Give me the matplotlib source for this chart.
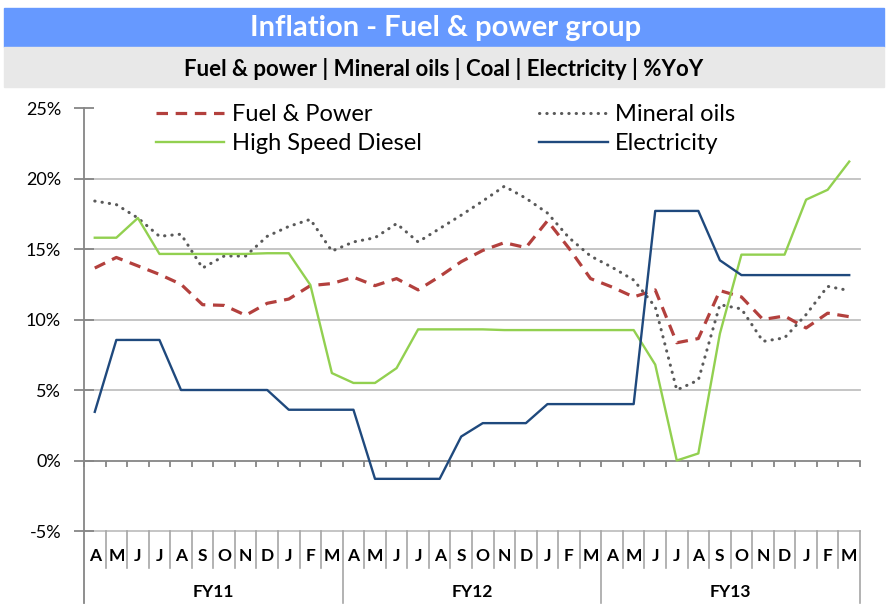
import matplotlib
matplotlib.use("Agg")
import matplotlib.pyplot as plt
from matplotlib.patches import Rectangle

# monthly %YoY, Apr FY11 .. Mar FY13
months = ["A", "M", "J", "J", "A", "S", "O", "N", "D", "J", "F", "M"]
fiscal_years = ["FY11", "FY12", "FY13"]

fuel_power = [13.65, 14.4, 13.8, 13.2, 12.5, 11.05, 11.0, 10.3, 11.15, 11.45, 12.4, 12.55,
              13.0, 12.4, 12.9, 12.1, 13.05, 14.1, 14.9, 15.45, 15.1, 17.0, 15.05, 12.9,
              12.3, 11.6, 12.1, 8.35, 8.65, 12.05, 11.6, 10.0, 10.25, 9.4, 10.45, 10.2]
mineral_oils = [18.4, 18.15, 17.2, 15.9, 16.05, 13.65, 14.5, 14.5, 15.9, 16.6, 17.1, 14.85,
                15.5, 15.8, 16.8, 15.5, 16.45, 17.4, 18.4, 19.45, 18.6, 17.55, 15.8, 14.5,
                13.7, 12.8, 10.9, 5.0, 5.7, 11.05, 10.75, 8.45, 8.7, 10.35, 12.35, 12.05]
hsd = [15.8, 15.8, 17.2, 14.65, 14.65, 14.65, 14.65, 14.65, 14.7, 14.7, 12.45, 6.2,
       5.5, 5.5, 6.55, 9.3, 9.3, 9.3, 9.3, 9.25, 9.25, 9.25, 9.25, 9.25,
       9.25, 9.25, 6.8, 0.0, 0.5, 9.0, 14.6, 14.6, 14.6, 18.5, 19.2, 21.2]
electricity = [3.45, 8.55, 8.55, 8.55, 5.0, 5.0, 5.0, 5.0, 5.0, 3.6, 3.6, 3.6,
               3.6, -1.3, -1.3, -1.3, -1.3, 1.7, 2.65, 2.65, 2.65, 4.0, 4.0, 4.0,
               4.0, 4.0, 17.7, 17.7, 17.7, 14.2, 13.15, 13.15, 13.15, 13.15, 13.15, 13.15]

plt.rcParams['font.family'] = ['Lato', 'DejaVu Sans']

W, H = 888, 607
fig = plt.figure(figsize=(W / 100, H / 100), dpi=100)

# header bars
fig.patches.append(Rectangle((4 / W, 1 - 47 / H), 880 / W, 39 / H,
                             transform=fig.transFigure, color="#6699FF", zorder=0))
fig.patches.append(Rectangle((4 / W, 1 - 87 / H), 880 / W, 40 / H,
                             transform=fig.transFigure, color="#E8E8E8", zorder=0))
fig.text(446 / W, 1 - 28 / H, "Inflation - Fuel & power group", color="white",
         fontsize=21, fontweight="bold", ha="center", va="center")
fig.text(444 / W, 1 - 69 / H, "Fuel & power | Mineral oils | Coal | Electricity | %YoY",
         color="black", fontsize=16, fontweight="bold", ha="center", va="center")

ax_h = 423
ax = fig.add_axes([84 / W, 1 - 531 / H, 776 / W, ax_h / H])
ax.set_xlim(0, 36)
ax.set_ylim(-5, 25)

x = [i + 0.5 for i in range(36)]
axis_grey = "#868686"

for v in [-5, 5, 10, 15, 20]:
    ax.axhline(v, color="#C0C0C0", lw=1.3, zorder=1, clip_on=False)

l_fp, = ax.plot(x, fuel_power, color="#B3403D", lw=2.3, linestyle=(0, (3.6, 2.4)),
                label="Fuel & Power", zorder=3)
l_mo, = ax.plot(x, mineral_oils, color="#595959", lw=2.2, linestyle=(0, (0.1, 2.3)),
                dash_capstyle="round", label="Mineral oils", zorder=3)
l_hsd, = ax.plot(x, hsd, color="#92D050", lw=1.7, label="High Speed Diesel", zorder=3)
l_el, = ax.plot(x, electricity, color="#1F497D", lw=1.7, label="Electricity", zorder=3)

for s in ["top", "right"]:
    ax.spines[s].set_visible(False)
ax.spines["left"].set_color(axis_grey)
ax.spines["bottom"].set_position(("data", 0))
ax.spines["bottom"].set_color(axis_grey)
ax.spines["left"].set_linewidth(1.3)
ax.spines["bottom"].set_linewidth(1.3)

ax.set_xticks(range(37))
ax.tick_params(axis="x", direction="out", length=4, color=axis_grey, width=1.3,
               labelbottom=False)
ax.set_yticks(range(-5, 30, 5))
ax.set_yticklabels([f"{v}%" for v in range(-5, 30, 5)])
ax.tick_params(axis="y", direction="inout", length=15, color=axis_grey, width=1.3,
               labelsize=13, pad=9)

# category axis below the plot
def fy_y(px):
    return -px / ax_h

trans = ax.get_xaxis_transform()
ax.plot([0, 0], [0, fy_y(72)], transform=ax.transAxes, color=axis_grey, lw=1.3, clip_on=False)
for k in range(1, 37):
    depth = 72 if k % 12 == 0 else 37
    ax.plot([k, k], [0, fy_y(depth)], transform=trans, color="#A6A6A6", lw=1.2, clip_on=False)
for fy_i, fy in enumerate(fiscal_years):
    for m_i, m in enumerate(months):
        ax.text(fy_i * 12 + m_i + 0.5, fy_y(25), m, transform=trans, ha="center", va="center",
                fontsize=12.5, fontweight="bold", clip_on=False)
    ax.text(fy_i * 12 + 6, fy_y(61), fy, transform=trans, ha="center", va="center",
            fontsize=12.5, fontweight="bold", clip_on=False)

ax.legend(handles=[l_fp, l_hsd, l_mo, l_el], ncol=2, loc="upper left",
          bbox_to_anchor=(156 / W, 1 - 104 / H), bbox_transform=fig.transFigure,
          frameon=False, fontsize=17, handlelength=2.9, handletextpad=0.3,
          columnspacing=5.0, labelspacing=0.35, borderpad=0, borderaxespad=0)

fig.savefig("out.png", dpi=100)
